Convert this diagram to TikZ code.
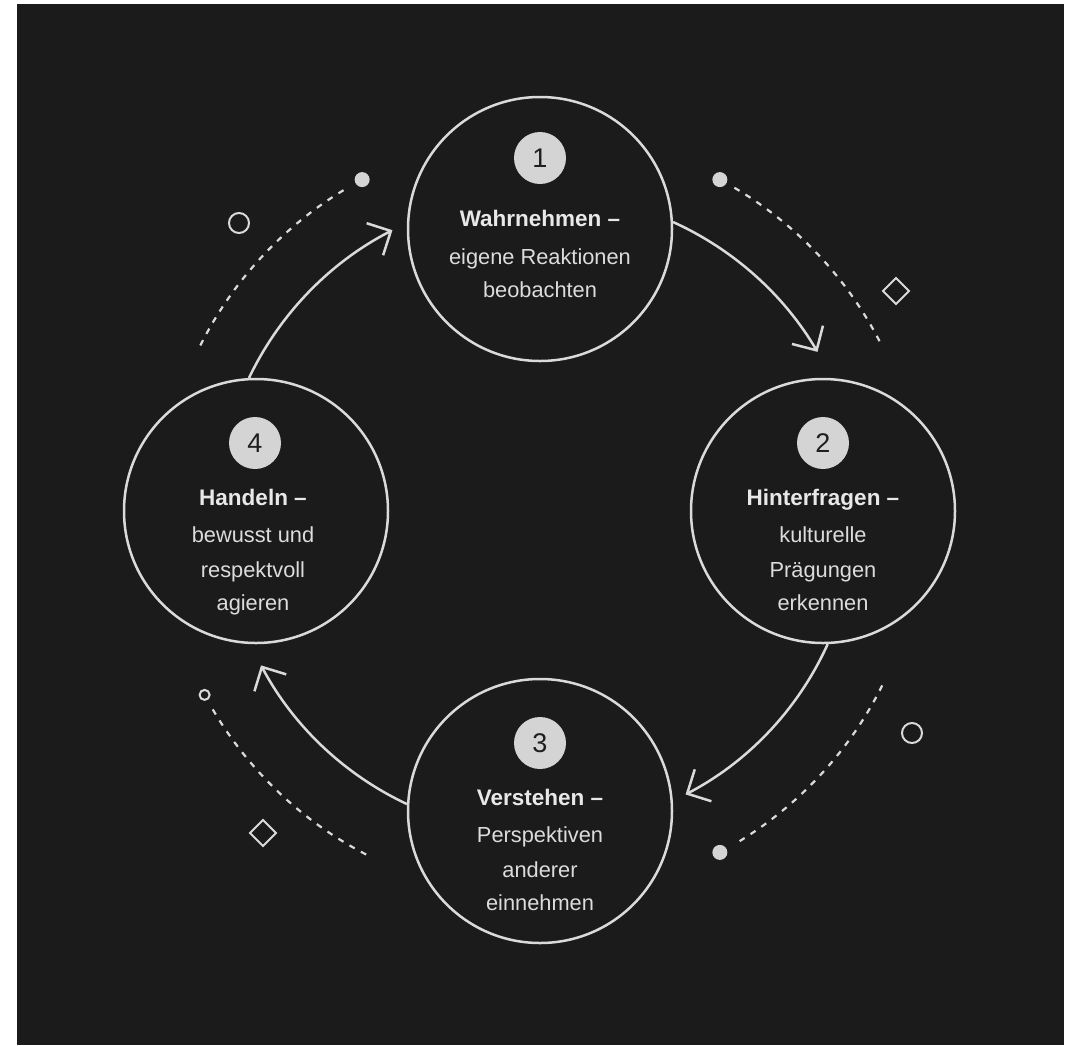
\documentclass[tikz,border=0pt]{standalone}
\usepackage{fontspec}
\setmainfont{Liberation Sans}
\usetikzlibrary{arrows.meta}
\definecolor{bg}{HTML}{1B1B1B}
\definecolor{fg}{HTML}{DADADA}
\definecolor{badgefill}{HTML}{D4D4D4}
\definecolor{badgetext}{HTML}{1E1E1E}
\definecolor{titlecol}{HTML}{E8E8E8}
\definecolor{desccol}{HTML}{DCDCDC}
\begin{document}
\begin{tikzpicture}[x=1pt,y=1pt,
  ring/.style={circle, draw=fg, line width=2.5pt, minimum size=264pt, inner sep=0pt},
  badge/.style={circle, fill=badgefill, minimum size=52pt, inner sep=0pt, text=badgetext, font=\fontsize{27}{27}\selectfont},
  title/.style={anchor=base, text=titlecol, inner sep=0pt, font=\fontsize{22.5}{22.5}\selectfont\bfseries},
  desc/.style={anchor=base, text=desccol, inner sep=0pt, font=\fontsize{21.8}{21.8}\selectfont},
  arr/.style={draw=fg, line width=2.5pt, -{Straight Barb[length=18pt,width=36pt]}},
  dotline/.style={draw=fg, line width=2.2pt, dash pattern=on 6pt off 7pt},
  deco/.style={draw=fg, line width=2pt}]
\useasboundingbox (0,0) rectangle (1069,-1045);
\fill[white] (0,0) rectangle (1069,-1045);
\fill[bg] (17,-4) rectangle (1064,-1045);
\coordinate (C) at (541,-516);

% main circles
\node[ring] (n1) at (540,-229) {};
\node[ring] (n2) at (823,-511) {};
\node[ring] (n3) at (540,-811) {};
\node[ring] (n4) at (256,-511) {};

% badges
\node[badge] (b1) at (540,-158) {1};
\node[badge] (b2) at (823,-443) {2};
\node[badge] (b3) at (540,-743) {3};
\node[badge] (b4) at (255,-443) {4};

% texts
\node[title] (t1) at (540,-226) {Wahrnehmen –};
\node[desc] (d1a) at (540,-264) {eigene Reaktionen};
\node[desc] (d1b) at (540,-297) {beobachten};

\node[title] (t2) at (823,-505) {Hinterfragen –};
\node[desc] (d2a) at (823,-542) {kulturelle};
\node[desc] (d2b) at (823,-577) {Prägungen};
\node[desc] (d2c) at (823,-610) {erkennen};

\node[title] (t3) at (540,-805) {Verstehen –};
\node[desc] (d3a) at (540,-842) {Perspektiven};
\node[desc] (d3b) at (540,-877) {anderer};
\node[desc] (d3c) at (540,-910) {einnehmen};

\node[title] (t4) at (253,-505) {Handeln –};
\node[desc] (d4a) at (253,-542) {bewusst und};
\node[desc] (d4b) at (253,-577) {respektvoll};
\node[desc] (d4c) at (253,-610) {agieren};

% cycle arrows
\draw[arr] (n1.3) arc[start angle=65.6, end angle=30.5, radius=322];
\draw[arr] (n2.-88) arc[start angle=-24.3, end angle=-62.5, radius=316];
\draw[arr] (n3.177) arc[start angle=244.9, end angle=208, radius=318];
\draw[arr] (n4.93) arc[start angle=154.5, end angle=117.2, radius=322];

% dashed outer arcs
\draw[dotline] (C) ++(59.5:381) arc[start angle=59.5, end angle=27, radius=381];
\fill[badgefill] (C) ++(62:381) circle[radius=7.5];
\draw[dotline] (C) ++(-26.4:381) arc[start angle=-26.4, end angle=-59.5, radius=381];
\fill[badgefill] (C) ++(-62:381) circle[radius=7.5];
\draw[dotline] (C) ++(210.5:381) arc[start angle=210.5, end angle=243, radius=381];
\draw[deco] (C) ++(208:381) circle[radius=5];
\draw[dotline] (C) ++(153.4:381) arc[start angle=153.4, end angle=120.5, radius=381];
\fill[badgefill] (C) ++(118:381) circle[radius=7.5];

% decorative shapes
\draw[deco] (239,-223) circle[radius=10];
\draw[deco] (912,-733) circle[radius=10];
\draw[deco] (896,-278) -- (909,-291) -- (896,-304) -- (883,-291) -- cycle;
\draw[deco] (263,-820) -- (276,-833) -- (263,-846) -- (250,-833) -- cycle;
\end{tikzpicture}
\end{document}
